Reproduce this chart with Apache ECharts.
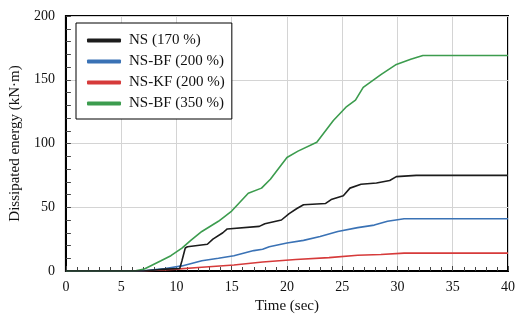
<!DOCTYPE html>
<html><head><meta charset="utf-8">
<script src="https://cdn.jsdelivr.net/npm/echarts@6/dist/echarts.min.js"></script>
<style>html,body{margin:0;padding:0;background:#fff}#c{width:526px;height:322px}</style>
</head><body><div id="c"></div>
<script>
const seriesNames = ['NS (170 %)', 'NS-BF (200 %)', 'NS-KF (200 %)', 'NS-BF (350 %)'];
const nsTimes = [0,7,9,10.3,10.5,10.8,11,12.8,13.3,14.2,14.6,17.5,18,19.5,20.2,20.9,21.5,23.5,24,25.1,25.7,26.7,28.1,29.3,29.9,31.7,40];
const nsValues = [0,0,1.5,2,8,18,19,21,25,30,33,35,37,40,45,49,52,53,56,59,65,68,69,71,74,75,75];
const bf200Times = [0,6.8,9,10.5,12.3,13.8,15.2,17,17.8,18.4,20,21.5,23,24.6,26.4,27.9,29.1,30.6,40];
const bf200Values = [0,0,2,4,8,10,12,16,17,19,22,24,27,31,34,36,39,41,41];
const kf200Times = [0,6.8,10,12.3,15.2,17.8,20.8,23.8,26.4,28.5,30.6,40];
const kf200Values = [0,0,1.5,3,4.7,7,9,10.5,12.3,13,14,14];
const bf350Times = [0,6.2,7.1,8.6,9.5,10.5,11.3,12.3,13.8,15,16.5,17.7,18.5,20,21,22.7,24.2,25.4,26.2,26.9,28.5,29.9,31.2,32.3,40];
const bf350Values = [0,0,1.5,8,12,18,24,31,39,47,61,65,72,89,94,101,118,129,134,144,154,162,166,169,169];
const xTicks = [0,5,10,15,20,25,30,35,40];
const yTicks = [0,50,100,150,200];

const colors = ['#1c1c1c', '#3a72b5', '#d63a3a', '#3c9c4e'];
const zip = (t, v) => t.map((x, i) => [x, v[i]]);
const data = [zip(nsTimes, nsValues), zip(bf200Times, bf200Values), zip(kf200Times, kf200Values), zip(bf350Times, bf350Values)];
const font = '"Liberation Serif", "Times New Roman", serif';

const chart = echarts.init(document.getElementById('c'), null, {renderer: 'canvas'});
chart.setOption({
  animation: false,
  backgroundColor: '#fff',
  grid: {left: 64, right: 18, top: 16, bottom: 51, show: true, borderColor: '#000', borderWidth: 2, backgroundColor: 'transparent'},
  legend: {
    left: 76, top: 23, orient: 'vertical',
    data: seriesNames,
    backgroundColor: '#fff', borderColor: '#000', borderWidth: 1,
    padding: [10, 7, 8, 11],
    itemWidth: 34, itemHeight: 4, itemGap: 6,
    icon: 'roundRect',
    textStyle: {fontFamily: font, fontSize: 15, color: '#111', lineHeight: 14, padding: [0, 0, 0, 3]}
  },
  xAxis: {
    type: 'value', min: xTicks[0], max: xTicks[xTicks.length - 1], interval: 5,
    name: 'Time (sec)', nameLocation: 'middle', nameGap: 27,
    nameTextStyle: {fontFamily: font, fontSize: 15, color: '#111'},
    axisLine: {show: true, lineStyle: {color: '#000', width: 2}},
    axisTick: {show: true, inside: true, length: 5, lineStyle: {color: '#444'}},
    minorTick: {show: true, splitNumber: 5, length: 4, lineStyle: {color: '#444'}},
    axisLabel: {fontFamily: font, fontSize: 14, color: '#111', margin: 9},
    splitLine: {show: true, lineStyle: {color: '#d4d4d4', width: 1}}
  },
  yAxis: {
    type: 'value', min: yTicks[0], max: yTicks[yTicks.length - 1], interval: 50,
    name: 'Dissipated energy (kN\u00b7m)', nameLocation: 'middle', nameGap: 37,
    nameTextStyle: {fontFamily: font, fontSize: 15, color: '#111'},
    axisLine: {show: true, lineStyle: {color: '#000', width: 2}},
    axisTick: {show: true, inside: true, length: 5, lineStyle: {color: '#444'}},
    minorTick: {show: true, splitNumber: 5, length: 5, lineStyle: {color: '#444'}},
    axisLabel: {fontFamily: font, fontSize: 14, color: '#111', margin: 11},
    splitLine: {show: true, lineStyle: {color: '#d4d4d4', width: 1}}
  },
  series: seriesNames.map((n, i) => ({
    name: n, type: 'line', data: data[i], showSymbol: false, symbol: 'none',
    lineStyle: {color: colors[i], width: 1.6}, itemStyle: {color: colors[i]},
    z: i === 3 ? 3 : 4 - i
  }))
});
</script></body></html>
